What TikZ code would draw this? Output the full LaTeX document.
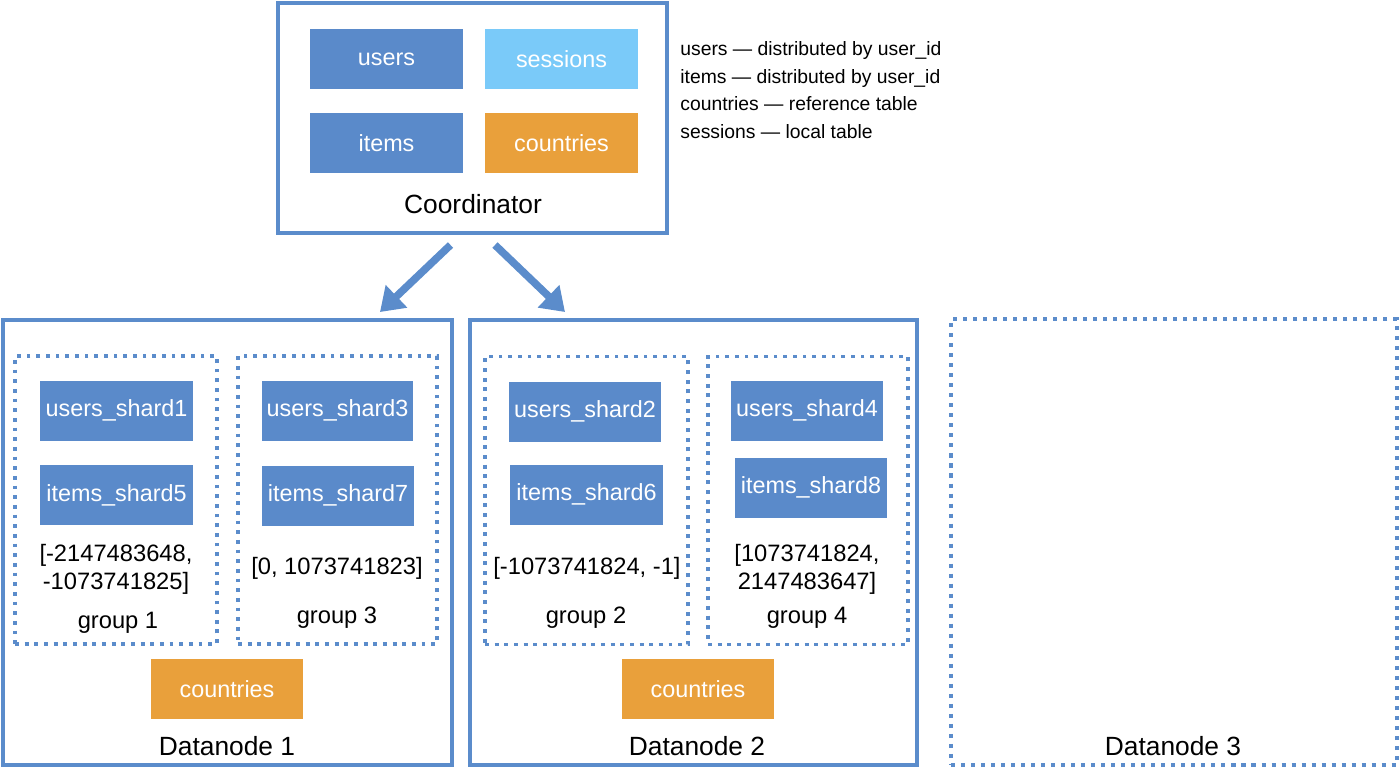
\documentclass[tikz,border=0pt]{standalone}
\usepackage{fontspec}
\setmainfont{Liberation Sans}
\usetikzlibrary{arrows.meta}
\definecolor{tblBlue}{HTML}{5A8ACA}
\definecolor{locBlue}{HTML}{7ACAF9}
\definecolor{refOrange}{HTML}{E9A03B}
\definecolor{edgeBlue}{HTML}{5B8CCB}

\begin{document}
\begin{tikzpicture}[
  x=0.02cm, y=-0.02cm,
  tbl/.style={rectangle, fill=tblBlue, text=white, inner sep=0pt,
              minimum width=3.06cm, minimum height=1.2cm,
              font=\fontsize{13.3}{16}\selectfont},
  loctbl/.style={tbl, fill=locBlue},
  reftbl/.style={tbl, fill=refOrange},
  server/.style={rectangle, draw=edgeBlue, line width=2.3pt, inner sep=0pt},
  spare/.style={server, dash pattern=on 2.3pt off 3.4pt},
  grp/.style={rectangle, draw=edgeBlue, line width=2.2pt, dash pattern=on 2.2pt off 3.3pt,
              inner sep=0pt, minimum width=4cm, minimum height=5.76cm},
  boxname/.style={font=\fontsize{15}{18}\selectfont, anchor=base},
  grpname/.style={font=\fontsize{13.5}{16}\selectfont, anchor=base},
  rangetxt/.style={font=\fontsize{13.5}{15.9}\selectfont, align=center},
  note/.style={font=\fontsize{11}{13}\selectfont, anchor=base west, inner sep=0pt},
  flow/.style={-{Triangle[length=13pt,width=17pt]}, line width=4.3pt, draw=edgeBlue},
]
\useasboundingbox (0,0) rectangle (1400,769);

% ---- Coordinator ----
\node[server, minimum width=7.78cm, minimum height=4.6cm] (coord) at (472.5,118) {};
\node[tbl]    (users)    at (386.5,59)  {users};
\node[loctbl] (sessions) at (561.5,59)  {sessions};
\node[tbl]    (items)    at (386.5,143) {items};
\node[reftbl] (ctry)     at (561.5,143) {countries};
\node[boxname] (coordname) at (473,213) {Coordinator};

% ---- Legend ----
\node[note] (leg1) at (680,55)  {users --- distributed by user\_id};
\node[note] (leg2) at (680,83)  {items --- distributed by user\_id};
\node[note] (leg3) at (680,110) {countries --- reference table};
\node[note] (leg4) at (680,138) {sessions --- local table};

% ---- Datanodes ----
\node[server, minimum width=8.98cm, minimum height=8.9cm] (dn1) at (227.5,542.5) {};
\node[server, minimum width=8.94cm, minimum height=8.9cm] (dn2) at (693.5,542.5) {};
\node[spare,  minimum width=8.92cm, minimum height=8.92cm] (dn3) at (1174,542) {};

% ---- Datanode 1: groups 1 and 3 ----
\node[grp, minimum width=4.04cm] (g1) at (116,500) {};
\node[tbl] (us1) at (116.5,410.5) {users\_shard1};
\node[tbl] (is5) at (116.5,495)   {items\_shard5};
\node[rangetxt] (r1) at (116,569.5) {[-2147483648,\\-1073741825]};
\node[grpname] (g1name) at (118,628) {group 1};

\node[grp, minimum width=3.98cm] (g3) at (337.5,500) {};
\node[tbl, minimum width=3.02cm] (us3) at (337.5,410.5) {users\_shard3};
\node[tbl, minimum width=3.04cm] (is7) at (338,495.5)   {items\_shard7};
\node[rangetxt] (r3) at (337,568) {[0, 1073741823]};
\node[grpname] (g3name) at (337,623) {group 3};

\node[reftbl, minimum width=3.04cm] (ctry1) at (227,689) {countries};
\node[boxname] (dn1name) at (227,755) {Datanode 1};

% ---- Datanode 2: groups 2 and 4 ----
\node[grp, minimum width=4.06cm] (g2) at (586.5,500.5) {};
\node[tbl, minimum width=3.04cm] (us2) at (585,411.5)   {users\_shard2};
\node[tbl] (is6) at (586.5,494.5) {items\_shard6};
\node[rangetxt] (r2) at (587,568) {[-1073741824, -1]};
\node[grpname] (g2name) at (586,623) {group 2};

\node[grp, minimum width=4cm] (g4) at (808,500.5) {};
\node[tbl, minimum width=3.04cm] (us4) at (807,410.5) {users\_shard4};
\node[tbl, minimum width=3.04cm] (is8) at (811,487.5) {items\_shard8};
\node[rangetxt] (r4) at (807,569.5) {[1073741824,\\2147483647]};
\node[grpname] (g4name) at (807,623) {group 4};

\node[reftbl, minimum width=3.04cm] (ctry2) at (698,689) {countries};
\node[boxname] (dn2name) at (697,755) {Datanode 2};

% ---- Datanode 3 (empty) ----
\node[boxname] (dn3name) at (1173,755) {Datanode 3};

% ---- Coordinator to datanodes ----
\draw[flow] ([shift={(-22,10)}]coord.south) -- ([shift={(-74,-6)}]dn1.north east);
\draw[flow] ([shift={(22.5,10)}]coord.south) -- ([shift={(97,-6)}]dn2.north west);

\end{tikzpicture}
\end{document}
